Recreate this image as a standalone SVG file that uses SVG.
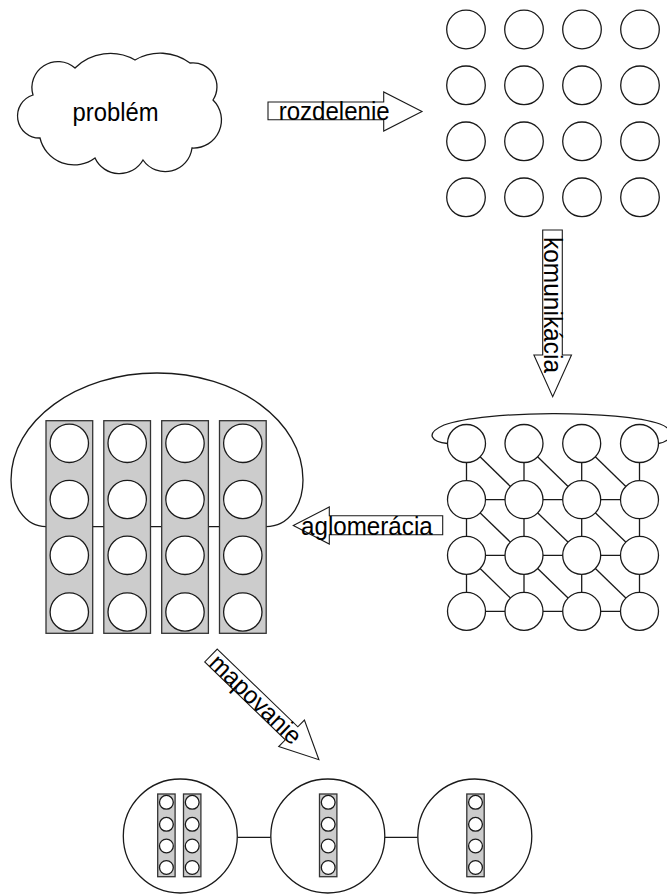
<svg xmlns="http://www.w3.org/2000/svg" width="667" height="894" viewBox="0 0 667 894">
<style>
.c{fill:#fff;stroke:#1a1a1a;stroke-width:1.3}
.e{fill:none;stroke:#1a1a1a;stroke-width:1.3}
.r{fill:#cccccc;stroke:#333;stroke-width:1.3}
.a{fill:#fff;stroke:#1a1a1a;stroke-width:1.1}
.t{font-family:"Liberation Sans",Arial,sans-serif;font-size:25px;fill:#000}
</style>
<rect width="667" height="894" fill="#fff"/>

<g id="problem">
<path class="e" d="M33,95 A26,26 0 0 1 75,68 A50,50 0 0 1 135,60 A50,50 0 0 1 190,63 A24,24 0 0 1 213,100 A28,28 0 0 1 192,148 A27,27 0 0 1 143,160 A27,27 0 0 1 95,158 A35,35 0 0 1 40,138 A22,22 0 0 1 33,95 Z" fill="#fff"/>
<text class="t" x="72.5" y="120.5" textLength="86" lengthAdjust="spacingAndGlyphs">problém</text>
</g>

<g id="partitions">
<circle class="c" cx="466" cy="29.5" r="19.3"/><circle class="c" cx="524" cy="29.5" r="19.3"/><circle class="c" cx="582" cy="29.5" r="19.3"/><circle class="c" cx="640" cy="29.5" r="19.3"/>
<circle class="c" cx="466" cy="85.3" r="19.3"/><circle class="c" cx="524" cy="85.3" r="19.3"/><circle class="c" cx="582" cy="85.3" r="19.3"/><circle class="c" cx="640" cy="85.3" r="19.3"/>
<circle class="c" cx="466" cy="141.3" r="19.3"/><circle class="c" cx="524" cy="141.3" r="19.3"/><circle class="c" cx="582" cy="141.3" r="19.3"/><circle class="c" cx="640" cy="141.3" r="19.3"/>
<circle class="c" cx="466" cy="197.3" r="19.3"/><circle class="c" cx="524" cy="197.3" r="19.3"/><circle class="c" cx="582" cy="197.3" r="19.3"/><circle class="c" cx="640" cy="197.3" r="19.3"/>
</g>

<g id="communication">
<path class="e" d="M447.5,443.5 C432,442 424,434 444,425 C485,410 620,410 660,424 C676,430 672,441 658.5,443.5"/>
<g class="e">
<line x1="466.5" y1="443.5" x2="466.5" y2="611.3"/><line x1="524" y1="443.5" x2="524" y2="611.3"/><line x1="581.7" y1="443.5" x2="581.7" y2="611.3"/><line x1="639.5" y1="443.5" x2="639.5" y2="611.3"/>
<line x1="466.5" y1="499.7" x2="639.5" y2="499.7"/><line x1="466.5" y1="555.3" x2="639.5" y2="555.3"/><line x1="466.5" y1="611.3" x2="639.5" y2="611.3"/>
<line x1="466.5" y1="443.5" x2="524" y2="499.7"/><line x1="524" y1="443.5" x2="581.7" y2="499.7"/><line x1="581.7" y1="443.5" x2="639.5" y2="499.7"/>
<line x1="466.5" y1="499.7" x2="524" y2="555.3"/><line x1="524" y1="499.7" x2="581.7" y2="555.3"/><line x1="581.7" y1="499.7" x2="639.5" y2="555.3"/>
<line x1="466.5" y1="555.3" x2="524" y2="611.3"/><line x1="524" y1="555.3" x2="581.7" y2="611.3"/><line x1="581.7" y1="555.3" x2="639.5" y2="611.3"/>
</g>
<circle class="c" cx="466.5" cy="443.5" r="19"/><circle class="c" cx="524" cy="443.5" r="19"/><circle class="c" cx="581.7" cy="443.5" r="19"/><circle class="c" cx="639.5" cy="443.5" r="19"/>
<circle class="c" cx="466.5" cy="499.7" r="19"/><circle class="c" cx="524" cy="499.7" r="19"/><circle class="c" cx="581.7" cy="499.7" r="19"/><circle class="c" cx="639.5" cy="499.7" r="19"/>
<circle class="c" cx="466.5" cy="555.3" r="19"/><circle class="c" cx="524" cy="555.3" r="19"/><circle class="c" cx="581.7" cy="555.3" r="19"/><circle class="c" cx="639.5" cy="555.3" r="19"/>
<circle class="c" cx="466.5" cy="611.3" r="19"/><circle class="c" cx="524" cy="611.3" r="19"/><circle class="c" cx="581.7" cy="611.3" r="19"/><circle class="c" cx="639.5" cy="611.3" r="19"/>
</g>

<g id="agglomeration">
<path class="e" d="M46,526.7 C25,526.7 11,505 11,480 C11,421 77,373 157,373 C237,373 303,421 303,480 C303,505 289,526.7 266,526.7"/>
<line class="e" x1="46" y1="526.7" x2="266" y2="526.7"/>
<rect class="r" x="46" y="420.7" width="46.7" height="212.6"/>
<rect class="r" x="103.8" y="420.7" width="46.7" height="212.6"/>
<rect class="r" x="161.7" y="420.7" width="46.7" height="212.6"/>
<rect class="r" x="219.5" y="420.7" width="46.7" height="212.6"/>
<circle class="c" cx="69.3" cy="443.3" r="19.2"/><circle class="c" cx="127.2" cy="443.3" r="19.2"/><circle class="c" cx="185" cy="443.3" r="19.2"/><circle class="c" cx="242.8" cy="443.3" r="19.2"/>
<circle class="c" cx="69.3" cy="499.5" r="19.2"/><circle class="c" cx="127.2" cy="499.5" r="19.2"/><circle class="c" cx="185" cy="499.5" r="19.2"/><circle class="c" cx="242.8" cy="499.5" r="19.2"/>
<circle class="c" cx="69.3" cy="555.3" r="19.2"/><circle class="c" cx="127.2" cy="555.3" r="19.2"/><circle class="c" cx="185" cy="555.3" r="19.2"/><circle class="c" cx="242.8" cy="555.3" r="19.2"/>
<circle class="c" cx="69.3" cy="612" r="19.2"/><circle class="c" cx="127.2" cy="612" r="19.2"/><circle class="c" cx="185" cy="612" r="19.2"/><circle class="c" cx="242.8" cy="612" r="19.2"/>
</g>

<g id="mapping">
<line class="e" x1="237.3" y1="837.3" x2="270.7" y2="837.3"/>
<line class="e" x1="385" y1="837.3" x2="417.7" y2="837.3"/>
<circle class="c" cx="180.3" cy="836" r="57"/>
<circle class="c" cx="327.8" cy="836" r="57"/>
<circle class="c" cx="474.8" cy="836" r="57"/>
<rect class="r" x="157.7" y="794" width="17.4" height="82.7"/>
<rect class="r" x="183.5" y="794" width="17.4" height="82.7"/>
<rect class="r" x="319.5" y="794" width="17.4" height="82.7"/>
<rect class="r" x="466.8" y="794" width="17.4" height="82.7"/>
<g>
<circle class="c" cx="166.4" cy="802.3" r="6.9"/><circle class="c" cx="166.4" cy="824.3" r="6.9"/><circle class="c" cx="166.4" cy="846" r="6.9"/><circle class="c" cx="166.4" cy="867.5" r="6.9"/>
<circle class="c" cx="192.2" cy="802.3" r="6.9"/><circle class="c" cx="192.2" cy="824.3" r="6.9"/><circle class="c" cx="192.2" cy="846" r="6.9"/><circle class="c" cx="192.2" cy="867.5" r="6.9"/>
<circle class="c" cx="328.2" cy="802.3" r="6.9"/><circle class="c" cx="328.2" cy="824.3" r="6.9"/><circle class="c" cx="328.2" cy="846" r="6.9"/><circle class="c" cx="328.2" cy="867.5" r="6.9"/>
<circle class="c" cx="475.5" cy="802.3" r="6.9"/><circle class="c" cx="475.5" cy="824.3" r="6.9"/><circle class="c" cx="475.5" cy="846" r="6.9"/><circle class="c" cx="475.5" cy="867.5" r="6.9"/>
</g>
</g>

<g id="connectors">
<g id="arrow-rozdelenie">
<polygon class="a" points="268,102 383.7,102 383.7,92 422,111.5 383.7,131 383.7,119.7 268,119.7"/>
<text class="t" x="278.7" y="119.5" textLength="111" lengthAdjust="spacingAndGlyphs">rozdelenie</text>
</g>
<g id="arrow-komunikacia">
<polygon class="a" points="542.7,230 562.3,230 562.3,355 571.5,355 552.7,396.7 533.9,355 542.7,355"/>
<text class="t" transform="translate(543.5,237) rotate(90)" x="0" y="0" textLength="136" lengthAdjust="spacingAndGlyphs">komunikácia</text>
</g>
<g id="arrow-aglomeracia">
<polygon class="a" points="442.7,515.7 329.3,515.7 329.3,507 293.3,525.5 329.3,544 329.3,534.7 442.7,534.7"/>
<text class="t" x="301" y="534.5" textLength="131.7" lengthAdjust="spacingAndGlyphs">aglomerácia</text>
</g>
<g id="arrow-mapovanie" transform="translate(211,655.5) rotate(44)">
<polygon class="a" points="0,-9 112,-9 112,-18.5 150,0 112,18.5 112,9 0,9"/>
<text class="t" x="4" y="9" textLength="117" lengthAdjust="spacingAndGlyphs">mapovanie</text>
</g>
</g>
</svg>
